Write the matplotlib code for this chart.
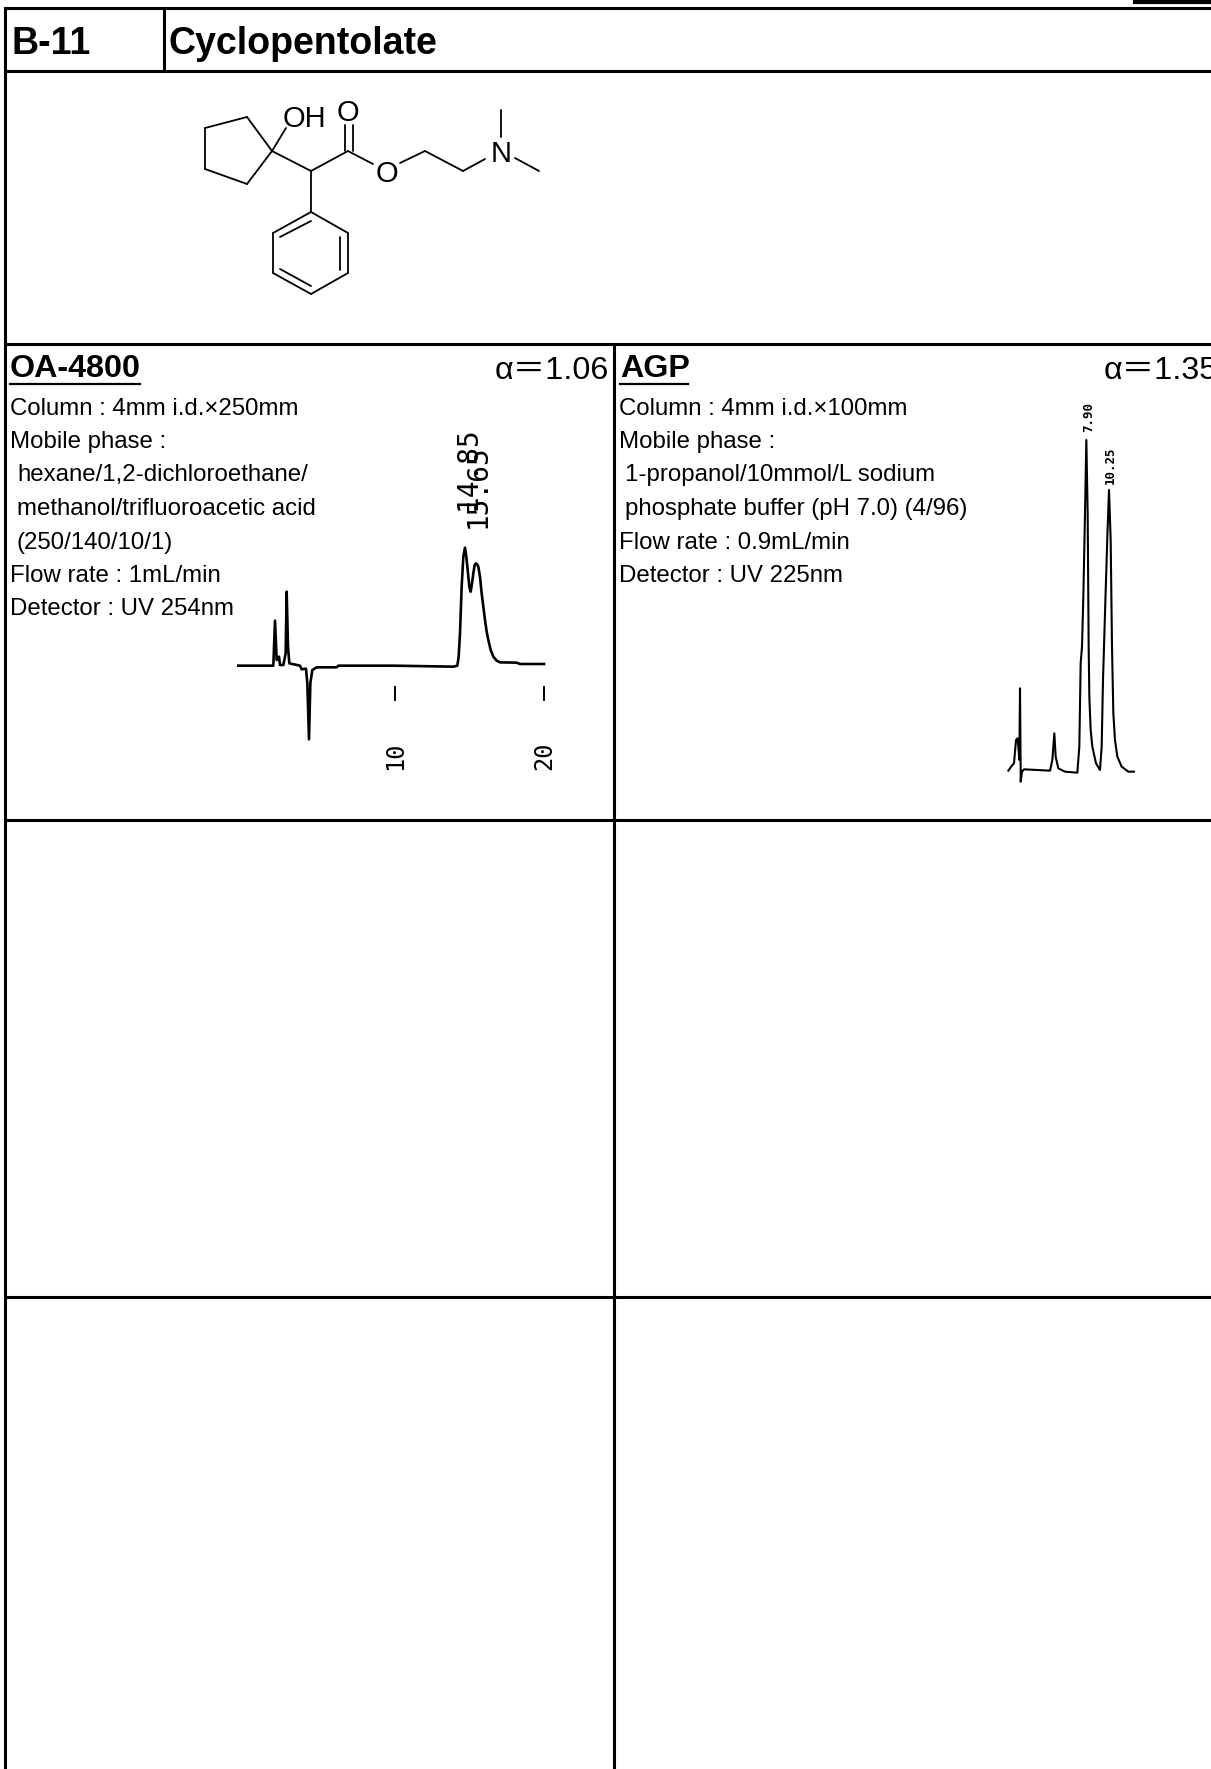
import matplotlib
matplotlib.use('Agg')
import matplotlib.pyplot as plt
import numpy as np

W, H = 1211, 1769
SANS = ['Liberation Sans', 'Noto Sans CJK JP', 'DejaVu Sans']

# chromatogram traces at 3x (offset and scale applied when drawn)
oa_x = [55, 160, 165, 170, 177, 180, 190, 197, 200, 204, 208, 240, 245, 258, 262, 267,
        271, 277, 290, 350, 355, 520, 700, 712, 716, 720, 725, 730, 735, 739, 743, 748,
        752, 756, 760, 764, 768, 772, 775, 780, 785, 790, 795, 800, 805, 812, 820, 830,
        840, 890, 900, 972]
oa_y = [797, 797, 662, 780, 770, 795, 795, 760, 575, 740, 790, 797, 808, 806, 850, 1018,
        850, 810, 802, 802, 797, 797, 800, 797, 770, 700, 560, 470, 443, 470, 510, 560,
        575, 550, 520, 495, 490, 494, 500, 530, 580, 620, 660, 695, 720, 750, 770, 782,
        787, 788, 792, 792]
agp_x = [55, 65, 72, 78, 83, 88, 90, 92, 92, 96, 102, 180, 187, 193, 197, 205, 225, 262,
         268, 272, 276, 280, 285, 289, 293, 296, 298, 302, 307, 318, 330, 335, 339, 345,
         352, 357, 362, 366, 370, 375, 382, 395, 415, 432]
agp_y = [1172, 1158, 1150, 1080, 1075, 1140, 925, 1170, 1205, 1175, 1168, 1172, 1140,
         1060, 1130, 1165, 1175, 1178, 1100, 850, 800, 650, 400, 180, 400, 800, 950, 1050,
         1100, 1150, 1170, 1100, 900, 700, 470, 330, 480, 800, 1000, 1080, 1130, 1160,
         1175, 1175]
oa_ticks_x = [395, 544]
oa_tick_labels = ['10', '20']
oa_peaks = ['14.85', '15.65']
agp_peaks = ['7.90', '10.25']

# structure: bonds as pairs of points
bonds = [
    ((272, 151), (247, 117)), ((247, 117), (205, 128)), ((205, 128), (205, 169)),
    ((205, 169), (247, 184)), ((247, 184), (272, 151)), ((272, 151), (286, 128)),
    ((272, 151), (311, 171)), ((311, 171), (348, 151)), ((345, 151), (345, 125)),
    ((353, 151), (353, 125)), ((348, 151), (373, 164)), ((400, 163), (425, 151)),
    ((425, 151), (463, 171)), ((463, 171), (485, 159)), ((501, 137), (501, 110)),
    ((515, 158), (539, 171)), ((311, 171), (311, 212)), ((311, 212), (348, 233)),
    ((348, 233), (348, 273)), ((348, 273), (311, 294)), ((311, 294), (273, 273)),
    ((273, 273), (273, 233)), ((273, 233), (311, 212)), ((280, 237), (311, 221)),
    ((340, 237), (340, 270)), ((280, 269), (311, 286)),
]
atoms = [('OH', 304, 119), ('O', 348, 113), ('O', 387, 174), ('N', 501, 154)]

h_lines = [(5, 1211, 8), (5, 1211, 71), (5, 1211, 344), (5, 1211, 820), (5, 1211, 1297)]
v_lines = [(5, 8, 1769), (164, 8, 71), (614, 344, 1769)]

col_left = ['Column : 4mm i.d.×250mm', 'Mobile phase :', ' hexane/1,2-dichloroethane/',
            ' methanol/trifluoroacetic acid', ' (250/140/10/1)', 'Flow rate : 1mL/min',
            'Detector : UV 254nm']
col_right = ['Column : 4mm i.d.×100mm', 'Mobile phase :', ' 1-propanol/10mmol/L sodium',
             ' phosphate buffer (pH 7.0) (4/96)', 'Flow rate : 0.9mL/min', 'Detector : UV 225nm']
line_y = [409, 442, 475, 509, 543, 576, 609]

fig = plt.figure(figsize=(W / 100, H / 100), dpi=100)
ax = fig.add_axes([0, 0, 1, 1])
ax.set_xlim(0, W)
ax.set_ylim(H, 0)
ax.axis('off')

# table grid
for x0, x1, y in h_lines:
    ax.plot([x0, x1], [y, y], color='k', lw=2.2, solid_capstyle='projecting')
for x, y0, y1 in v_lines:
    ax.plot([x, x], [y0, y1], color='k', lw=2.2, solid_capstyle='projecting')
ax.plot([1135, 1211], [2, 2], color='k', lw=3)

# header
ax.text(11, 44, 'B-11', family=SANS, fontsize=27, fontweight='bold', va='center')
ax.text(169, 44, 'Cyclopentolate', family=SANS, fontsize=27, fontweight='bold', va='center')

# column headings
ax.text(10, 369, 'OA-4800', family=SANS, fontsize=23.2, fontweight='bold', va='center')
ax.plot([10, 140], [384, 384], color='k', lw=1.6)
ax.text(620, 369, 'AGP', family=SANS, fontsize=23.2, fontweight='bold', va='center')
ax.plot([620, 688], [384, 384], color='k', lw=1.6)
ax.text(495, 371, 'α＝1.06', family=SANS, fontsize=23.3, va='center')
ax.text(1104, 371, 'α＝1.35', family=SANS, fontsize=23.3, va='center')

for y, s in zip(line_y, col_left):
    ax.text(10 if not s.startswith(' ') else 17, y, s.strip(), family=SANS, fontsize=17.3, va='center')
for y, s in zip(line_y, col_right):
    ax.text(619 if not s.startswith(' ') else 625, y, s.strip(), family=SANS, fontsize=17.3, va='center')

# structure
for a, b in bonds:
    ax.plot([a[0], b[0]], [a[1], b[1]], color='k', lw=1.3, solid_capstyle='round')
for s, x, y in atoms:
    ax.text(x, y, s, family=SANS, fontsize=21, ha='center', va='center')

# chromatograms
ax.plot(220 + np.array(oa_x) / 3, 400 + np.array(oa_y) / 3, color='k', lw=1.9)
ax.plot(990 + np.array(agp_x) / 3, 380 + np.array(agp_y) / 3, color='k', lw=1.5)
for x, s in zip(oa_ticks_x, oa_tick_labels):
    ax.plot([x, x], [687, 700], color='k', lw=1.4)
    ax.text(x, 756, s, family='DejaVu Sans Mono', fontsize=17, rotation=90, ha='center', va='center')
ax.text(467.5, 468, oa_peaks[0], family='DejaVu Sans Mono', fontsize=20, rotation=90, ha='center', va='center')
ax.text(477.5, 486, oa_peaks[1], family='DejaVu Sans Mono', fontsize=20, rotation=90, ha='center', va='center')
ax.text(1089, 417, agp_peaks[0], family='DejaVu Sans Mono', fontsize=9, fontweight='bold',
        rotation=90, ha='center', va='center')
ax.text(1110, 465, agp_peaks[1], family='DejaVu Sans Mono', fontsize=9, fontweight='bold',
        rotation=90, ha='center', va='center')

fig.savefig('out.png', dpi=100, facecolor='white')
plt.close(fig)
